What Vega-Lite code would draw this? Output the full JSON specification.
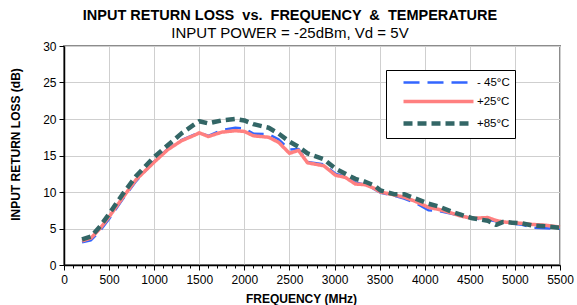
{
  "$schema": "https://vega.github.io/schema/vega-lite/v6.json",
  "width": 496,
  "height": 219,
  "autosize": "none",
  "padding": {"left": 64, "top": 46, "right": 17, "bottom": 40},
  "background": "white",
  "title": {
    "text": "INPUT RETURN LOSS \u00a0vs. \u00a0FREQUENCY \u00a0& \u00a0TEMPERATURE",
    "subtitle": "INPUT POWER = -25dBm, Vd = 5V",
    "anchor": "middle",
    "frame": "group",
    "dx": -22,
    "offset": -2,
    "font": "Liberation Sans",
    "fontSize": 14.5,
    "fontWeight": "bold",
    "color": "black",
    "subtitleFont": "Liberation Sans",
    "subtitleFontSize": 15,
    "subtitleColor": "black",
    "subtitlePadding": 3
  },
  "datasets": {
    "rl": [
      {"freq": 200, "temp": "- 45°C", "rl": 3.1}, {"freq": 300, "temp": "- 45°C", "rl": 3.4}, {"freq": 400, "temp": "- 45°C", "rl": 4.7}, {"freq": 500, "temp": "- 45°C", "rl": 6.3}, {"freq": 650, "temp": "- 45°C", "rl": 9.0}, {"freq": 800, "temp": "- 45°C", "rl": 11.5}, {"freq": 1000, "temp": "- 45°C", "rl": 14.2}, {"freq": 1150, "temp": "- 45°C", "rl": 15.9}, {"freq": 1300, "temp": "- 45°C", "rl": 17.1}, {"freq": 1450, "temp": "- 45°C", "rl": 17.9}, {"freq": 1500, "temp": "- 45°C", "rl": 18.1}, {"freq": 1600, "temp": "- 45°C", "rl": 17.7}, {"freq": 1750, "temp": "- 45°C", "rl": 18.5}, {"freq": 1900, "temp": "- 45°C", "rl": 18.8}, {"freq": 2000, "temp": "- 45°C", "rl": 18.7}, {"freq": 2100, "temp": "- 45°C", "rl": 18.0}, {"freq": 2270, "temp": "- 45°C", "rl": 17.9}, {"freq": 2380, "temp": "- 45°C", "rl": 17.2}, {"freq": 2500, "temp": "- 45°C", "rl": 15.8}, {"freq": 2600, "temp": "- 45°C", "rl": 15.9}, {"freq": 2700, "temp": "- 45°C", "rl": 14.1}, {"freq": 2880, "temp": "- 45°C", "rl": 13.8}, {"freq": 3010, "temp": "- 45°C", "rl": 12.5}, {"freq": 3120, "temp": "- 45°C", "rl": 12.1}, {"freq": 3230, "temp": "- 45°C", "rl": 11.3}, {"freq": 3340, "temp": "- 45°C", "rl": 11.0}, {"freq": 3440, "temp": "- 45°C", "rl": 10.4}, {"freq": 3510, "temp": "- 45°C", "rl": 9.9}, {"freq": 3660, "temp": "- 45°C", "rl": 9.5}, {"freq": 3770, "temp": "- 45°C", "rl": 9.1}, {"freq": 3900, "temp": "- 45°C", "rl": 8.5}, {"freq": 4040, "temp": "- 45°C", "rl": 7.5}, {"freq": 4160, "temp": "- 45°C", "rl": 7.4}, {"freq": 4300, "temp": "- 45°C", "rl": 7.0}, {"freq": 4400, "temp": "- 45°C", "rl": 6.7}, {"freq": 4530, "temp": "- 45°C", "rl": 6.4}, {"freq": 4700, "temp": "- 45°C", "rl": 6.2}, {"freq": 4790, "temp": "- 45°C", "rl": 6.0}, {"freq": 4870, "temp": "- 45°C", "rl": 5.8}, {"freq": 4970, "temp": "- 45°C", "rl": 5.7}, {"freq": 5080, "temp": "- 45°C", "rl": 5.5}, {"freq": 5200, "temp": "- 45°C", "rl": 5.1}, {"freq": 5340, "temp": "- 45°C", "rl": 5.05}, {"freq": 5500, "temp": "- 45°C", "rl": 4.95},
      {"freq": 200, "temp": "+25°C", "rl": 3.3}, {"freq": 300, "temp": "+25°C", "rl": 3.7}, {"freq": 400, "temp": "+25°C", "rl": 5.0}, {"freq": 500, "temp": "+25°C", "rl": 6.6}, {"freq": 650, "temp": "+25°C", "rl": 9.2}, {"freq": 800, "temp": "+25°C", "rl": 11.7}, {"freq": 1000, "temp": "+25°C", "rl": 14.1}, {"freq": 1150, "temp": "+25°C", "rl": 15.8}, {"freq": 1300, "temp": "+25°C", "rl": 17.0}, {"freq": 1450, "temp": "+25°C", "rl": 17.8}, {"freq": 1500, "temp": "+25°C", "rl": 18.1}, {"freq": 1600, "temp": "+25°C", "rl": 17.6}, {"freq": 1750, "temp": "+25°C", "rl": 18.2}, {"freq": 1900, "temp": "+25°C", "rl": 18.4}, {"freq": 2000, "temp": "+25°C", "rl": 18.3}, {"freq": 2100, "temp": "+25°C", "rl": 17.7}, {"freq": 2270, "temp": "+25°C", "rl": 17.5}, {"freq": 2380, "temp": "+25°C", "rl": 16.8}, {"freq": 2500, "temp": "+25°C", "rl": 15.3}, {"freq": 2600, "temp": "+25°C", "rl": 15.7}, {"freq": 2700, "temp": "+25°C", "rl": 14.0}, {"freq": 2880, "temp": "+25°C", "rl": 13.6}, {"freq": 3010, "temp": "+25°C", "rl": 12.3}, {"freq": 3120, "temp": "+25°C", "rl": 12.0}, {"freq": 3230, "temp": "+25°C", "rl": 11.1}, {"freq": 3340, "temp": "+25°C", "rl": 11.0}, {"freq": 3440, "temp": "+25°C", "rl": 10.5}, {"freq": 3510, "temp": "+25°C", "rl": 10.0}, {"freq": 3660, "temp": "+25°C", "rl": 9.6}, {"freq": 3770, "temp": "+25°C", "rl": 9.3}, {"freq": 3900, "temp": "+25°C", "rl": 8.7}, {"freq": 4040, "temp": "+25°C", "rl": 7.9}, {"freq": 4160, "temp": "+25°C", "rl": 7.6}, {"freq": 4300, "temp": "+25°C", "rl": 7.1}, {"freq": 4400, "temp": "+25°C", "rl": 6.7}, {"freq": 4530, "temp": "+25°C", "rl": 6.4}, {"freq": 4700, "temp": "+25°C", "rl": 6.5}, {"freq": 4790, "temp": "+25°C", "rl": 6.1}, {"freq": 4870, "temp": "+25°C", "rl": 5.9}, {"freq": 4970, "temp": "+25°C", "rl": 5.8}, {"freq": 5080, "temp": "+25°C", "rl": 5.7}, {"freq": 5200, "temp": "+25°C", "rl": 5.55}, {"freq": 5340, "temp": "+25°C", "rl": 5.45}, {"freq": 5500, "temp": "+25°C", "rl": 5.2},
      {"freq": 200, "temp": "+85°C", "rl": 3.5}, {"freq": 300, "temp": "+85°C", "rl": 3.9}, {"freq": 400, "temp": "+85°C", "rl": 5.3}, {"freq": 500, "temp": "+85°C", "rl": 7.0}, {"freq": 650, "temp": "+85°C", "rl": 9.7}, {"freq": 800, "temp": "+85°C", "rl": 12.2}, {"freq": 1000, "temp": "+85°C", "rl": 14.8}, {"freq": 1150, "temp": "+85°C", "rl": 16.4}, {"freq": 1300, "temp": "+85°C", "rl": 18.0}, {"freq": 1450, "temp": "+85°C", "rl": 19.3}, {"freq": 1500, "temp": "+85°C", "rl": 19.7}, {"freq": 1600, "temp": "+85°C", "rl": 19.4}, {"freq": 1750, "temp": "+85°C", "rl": 19.8}, {"freq": 1900, "temp": "+85°C", "rl": 20.0}, {"freq": 2000, "temp": "+85°C", "rl": 19.8}, {"freq": 2100, "temp": "+85°C", "rl": 19.3}, {"freq": 2270, "temp": "+85°C", "rl": 18.8}, {"freq": 2380, "temp": "+85°C", "rl": 18.0}, {"freq": 2500, "temp": "+85°C", "rl": 16.9}, {"freq": 2600, "temp": "+85°C", "rl": 16.2}, {"freq": 2700, "temp": "+85°C", "rl": 15.3}, {"freq": 2880, "temp": "+85°C", "rl": 14.5}, {"freq": 3010, "temp": "+85°C", "rl": 13.2}, {"freq": 3120, "temp": "+85°C", "rl": 12.5}, {"freq": 3230, "temp": "+85°C", "rl": 11.8}, {"freq": 3340, "temp": "+85°C", "rl": 11.4}, {"freq": 3440, "temp": "+85°C", "rl": 10.9}, {"freq": 3510, "temp": "+85°C", "rl": 10.2}, {"freq": 3660, "temp": "+85°C", "rl": 9.7}, {"freq": 3770, "temp": "+85°C", "rl": 9.7}, {"freq": 3900, "temp": "+85°C", "rl": 9.1}, {"freq": 4040, "temp": "+85°C", "rl": 8.4}, {"freq": 4160, "temp": "+85°C", "rl": 8.0}, {"freq": 4300, "temp": "+85°C", "rl": 7.3}, {"freq": 4400, "temp": "+85°C", "rl": 6.9}, {"freq": 4530, "temp": "+85°C", "rl": 6.4}, {"freq": 4700, "temp": "+85°C", "rl": 6.05}, {"freq": 4790, "temp": "+85°C", "rl": 5.5}, {"freq": 4870, "temp": "+85°C", "rl": 5.9}, {"freq": 4970, "temp": "+85°C", "rl": 5.8}, {"freq": 5080, "temp": "+85°C", "rl": 5.7}, {"freq": 5200, "temp": "+85°C", "rl": 5.4}, {"freq": 5340, "temp": "+85°C", "rl": 5.3}, {"freq": 5500, "temp": "+85°C", "rl": 5.1}
    ]
  },
  "data": {"name": "rl"},
  "encoding": {
    "x": {
      "field": "freq", "type": "quantitative",
      "scale": {"domain": [0, 5500], "nice": false},
      "axis": {
        "title": "FREQUENCY (MHz)",
        "values": [0,100,200,300,400,500,600,700,800,900,1000,1100,1200,1300,1400,1500,1600,1700,1800,1900,2000,2100,2200,2300,2400,2500,2600,2700,2800,2900,3000,3100,3200,3300,3400,3500,3600,3700,3800,3900,4000,4100,4200,4300,4400,4500,4600,4700,4800,4900,5000,5100,5200,5300,5400,5500],
        "format": "d",
        "labelExpr": "datum.value % 500 === 0 ? datum.label : ''",
        "gridOpacity": {"condition": {"test": "datum.value % 500 === 0", "value": 1}, "value": 0},
        "tickSize": {"condition": {"test": "datum.value % 500 === 0", "value": 5}, "value": 3},
        "labelFlush": false,
        "labelOverlap": false,
        "labelBound": false,
        "labelPadding": 4,
        "titleX": 237,
        "titleY": 37,
        "titleBaseline": "alphabetic",
        "titleAnchor": "middle"
      }
    },
    "y": {
      "field": "rl", "type": "quantitative",
      "scale": {"domain": [0, 30], "nice": false},
      "axis": {
        "title": "INPUT RETURN LOSS (dB)",
        "values": [0, 5, 10, 15, 20, 25, 30],
        "labelFlush": false,
        "labelOverlap": false,
        "tickSize": 5,
        "labelPadding": 3,
        "titleX": -45,
        "titleY": 98,
        "titleAngle": -90,
        "titleBaseline": "alphabetic",
        "titleAnchor": "middle"
      }
    },
    "color": {
      "field": "temp", "type": "nominal",
      "scale": {"domain": ["- 45°C", "+25°C", "+85°C"], "range": ["#3366ff", "#ff8080", "#336666"]},
      "legend": {"title": null}
    },
    "strokeDash": {
      "field": "temp", "type": "nominal",
      "scale": {"domain": ["- 45°C", "+25°C", "+85°C"], "range": [[16, 8], [1, 0], [9, 5]]},
      "legend": {"title": null}
    },
    "strokeWidth": {
      "field": "temp", "type": "nominal",
      "scale": {"domain": ["- 45°C", "+25°C", "+85°C"], "range": [2.5, 4.5, 4.5]},
      "legend": {"title": null}
    }
  },
  "layer": [
    {"transform": [{"filter": "datum.temp === '- 45°C'"}], "mark": {"type": "line", "strokeCap": "butt", "strokeJoin": "round"}},
    {"transform": [{"filter": "datum.temp === '+25°C'"}], "mark": {"type": "line", "strokeCap": "butt", "strokeJoin": "round"}},
    {"transform": [{"filter": "datum.temp === '+85°C'"}], "mark": {"type": "line", "strokeCap": "butt", "strokeJoin": "round"}}
  ],
  "config": {
    "font": "Liberation Sans",
    "view": {"stroke": "#8c8c8c", "strokeWidth": 2},
    "axis": {
      "domainColor": "black",
      "domainWidth": 1.5,
      "tickColor": "black",
      "tickWidth": 1,
      "gridColor": "#cfcfcf",
      "gridWidth": 1,
      "labelFont": "Liberation Sans",
      "labelFontSize": 12,
      "labelColor": "black",
      "titleFont": "Liberation Sans",
      "titleFontSize": 12,
      "titleFontWeight": "bold",
      "titleColor": "black"
    },
    "legend": {
      "orient": "none",
      "legendX": 322,
      "legendY": 24,
      "symbolType": "M0.667,0H12.333",
      "symbolSize": 144,
      "labelFont": "Liberation Sans",
      "labelFontSize": 11.5,
      "labelColor": "black",
      "labelExpr": "datum.label + '\u00a0\u00a0\u00a0\u00a0'",
      "strokeColor": "black",
      "fillColor": "white",
      "padding": 5,
      "rowPadding": 5.5,
      "labelOffset": 69
    }
  }
}
